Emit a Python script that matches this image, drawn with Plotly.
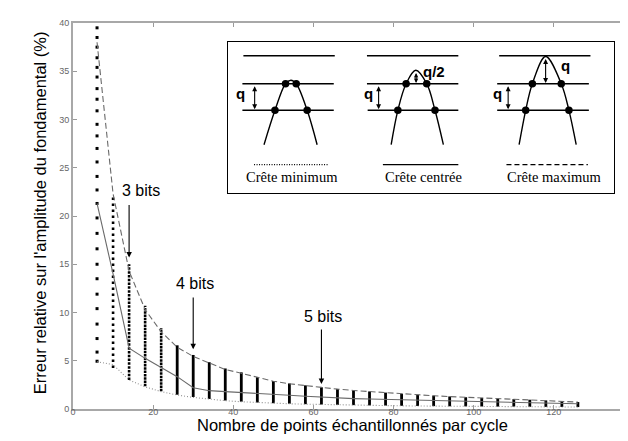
import plotly.graph_objects as go

# ---------------- data ----------------
x_curve = [6, 10, 14, 18, 22, 26, 30, 34, 38, 42, 46, 50, 54, 58, 62, 66, 70, 74,
           78, 82, 86, 90, 94, 98, 102, 106, 110, 114, 118, 122, 126]
crete_max = [38.0, 22.3, 14.3, 10.3, 8.0, 6.4, 5.45, 4.75, 4.1, 3.7, 3.25, 2.88, 2.62,
             2.42, 2.23, 2.06, 1.92, 1.8, 1.68, 1.56, 1.46, 1.37, 1.29, 1.21, 1.14,
             1.07, 1.01, 0.95, 0.88, 0.8, 0.72]
crete_centree = [21.3, 14.0, 6.3, 5.25, 4.3, 3.35, 2.2, 1.9, 1.8, 1.72, 1.62, 1.52, 1.42,
                 1.32, 1.22, 1.14, 1.08, 1.03, 0.99, 0.95, 0.91, 0.87, 0.83, 0.79, 0.76,
                 0.72, 0.69, 0.66, 0.62, 0.58, 0.54]
crete_min = [4.9, 4.6, 3.0, 2.3, 1.8, 1.45, 1.2, 1.0, 0.86, 0.75, 0.66, 0.59, 0.54, 0.5,
             0.46, 0.43, 0.4, 0.37, 0.35, 0.33, 0.31, 0.3, 0.28, 0.27, 0.26, 0.25, 0.24,
             0.23, 0.22, 0.21, 0.2]

# simulated error values (columns of dots)
col6_x = 6
col6_values = [39.5, 38.5, 37.5, 36.4, 35.4, 34.4, 33.2, 32.1, 30.9, 29.5, 28.3, 27.0,
               25.6, 24.1, 22.7, 21.3, 19.8, 18.2, 16.6, 15.0, 13.5, 11.9, 10.4, 8.8,
               7.3, 5.9, 4.95]
col_x = [10, 14, 18, 22, 26, 30, 34, 38, 42, 46, 50, 54, 58, 62, 66, 70, 74, 78, 82, 86,
         90, 94, 98, 102, 106, 110, 114, 118, 122, 126]
col_top = [22.2, 15.0, 10.7, 8.4, 6.6, 5.6, 4.85, 4.2, 3.8, 3.3, 2.9, 2.65, 2.45, 2.25,
           2.08, 1.93, 1.82, 1.7, 1.58, 1.47, 1.38, 1.3, 1.22, 1.15, 1.08, 1.02, 0.96,
           0.89, 0.81, 0.72]
col_bottom = [4.25, 3.0, 2.35, 1.83, 1.48, 1.24, 1.04, 0.88, 0.76, 0.67, 0.6, 0.55, 0.5,
              0.46, 0.43, 0.4, 0.37, 0.35, 0.33, 0.31, 0.3, 0.28, 0.27, 0.26, 0.25, 0.24,
              0.23, 0.22, 0.21, 0.2]

x_ticks = [0, 20, 40, 60, 80, 100, 120, 140]
y_ticks = [0, 5, 10, 15, 20, 25, 30, 35, 40]

bit_labels = ["3 bits", "4 bits", "5 bits"]
bit_x = [14, 30, 62]
bit_tip_y = [15.7, 6.2, 2.6]
bit_tail_y = [21.3, 11.7, 8.4]
bit_text_x = [16.9, 30.4, 62.4]
bit_text_y = [22.6, 13.0, 9.6]

# ---------------- inset illustration (inset pixel frame) ----------------
inset_labels = ["Crête minimum", "Crête centrée", "Crête maximum"]
inset_label_x = [284.3, 416.7, 548.5]
inset_sample_x0 = [246.7, 376.0, 500.0]
inset_sample_x1 = [321.7, 451.7, 581.7]
inset_sample_dash = ["1px,1.5px", "solid", "5px,3px"]
level_x0 = [[236, 235, 235], [360, 360, 360.7], [492.7, 490.7, 490.7]]
level_x1 = [[327.7, 326.7, 326.7], [451.7, 451.7, 451.7], [584.3, 582.7, 582.7]]
level_y = [47.7, 75.7, 102.3]
peak_x = [[256.7, 267.7, 278.3, 283.7, 289, 300, 310],
          [384.3, 391, 399.3, 409, 420, 428.3, 436.7],
          [512.7, 519.3, 526, 539.3, 555, 562.7, 570]]
peak_y = [[136.7, 102.3, 75.7, 72.3, 75.7, 102.3, 136.7],
          [136.7, 102.3, 75.7, 62.3, 75.7, 102.3, 136.7],
          [136.7, 102.3, 75.7, 48.5, 75.7, 102.3, 136.7]]
dot_x = [[278.3, 289, 267.7, 300], [399.3, 420, 391, 428.3], [526, 555, 519.3, 562.7]]
dot_y = [75.7, 75.7, 102.3, 102.3]
q_arrow_x = [247.3, 371.7, 501.7]
q_label_x = [233.5, 361.5, 491.5]
peak_arrow_x = [None, 409.3, 539.3]
peak_arrow_y0 = [None, 63.5, 49.5]
peak_label = [None, "q/2", "q"]
peak_label_x = [None, 427.5, 559.0]
peak_label_y = [None, 63.5, 58.0]

# ---------------- figure ----------------
W, H = 628, 441
ML, MR, MT, MB = 65, 0, 15, 40
PW, PH = W - ML - MR, H - MT - MB
BOX = (221, 608, 34, 185)  # inset frame in page pixels (x0, x1, ytop, ybottom)

fig = go.Figure()

# column x = 6 (individual points)
fig.add_trace(go.Scatter(x=[col6_x] * len(col6_values), y=col6_values, mode="markers",
                         marker=dict(symbol="square", size=3, color="black", line=dict(width=0)),
                         hoverinfo="skip"))
# other columns
for xv, lo, hi in zip(col_x, col_bottom, col_top):
    if xv <= 10:
        dash, w = "2.5px,3.5px", 2.6
    elif xv <= 14:
        dash, w = "2.5px,1.3px", 2.6
    elif xv <= 22:
        dash, w = "2.5px,0.8px", 2.6
    else:
        dash, w = "solid", 2.8
    fig.add_trace(go.Scatter(x=[xv, xv], y=[lo, hi], mode="lines",
                             line=dict(color="black", width=w, dash=dash), hoverinfo="skip"))

fig.add_trace(go.Scatter(x=x_curve, y=crete_max, mode="lines",
                         line=dict(color="#6a6a6a", width=1.1, dash="6px,3px")))
fig.add_trace(go.Scatter(x=x_curve, y=crete_centree, mode="lines",
                         line=dict(color="#6a6a6a", width=1.1)))
fig.add_trace(go.Scatter(x=x_curve, y=crete_min, mode="lines",
                         line=dict(color="#909090", width=1.1, dash="1px,2px")))

annotations = []
for lab, xv, tip, tail, tx, ty in zip(bit_labels, bit_x, bit_tip_y, bit_tail_y, bit_text_x, bit_text_y):
    annotations.append(dict(x=xv, y=tip, ax=xv, ay=tail, xref="x", yref="y", axref="x", ayref="y",
                            text="", showarrow=True, arrowhead=2, arrowsize=1, arrowwidth=1.1,
                            arrowcolor="black"))
    annotations.append(dict(x=tx, y=ty, xref="x", yref="y", text=lab, showarrow=False,
                            font=dict(family="Liberation Sans, Arial", size=16, color="black")))

# axis titles
annotations.append(dict(x=(345 - ML) / PW, y=(MT + PH - 428) / PH, xref="paper", yref="paper",
                        text="Nombre de points échantillonnés par cycle", showarrow=False,
                        font=dict(family="Liberation Sans, Arial", size=16.5, color="black")))
annotations.append(dict(x=(21 - ML) / PW, y=(MT + PH - 205) / PH, xref="paper", yref="paper",
                        text="Erreur relative sur l'amplitude du fondamental (%)", showarrow=False,
                        textangle=-90,
                        font=dict(family="Liberation Sans, Arial", size=16.5, color="black")))

# inset
for i in range(3):
    for x0, x1, yl in zip(level_x0[i], level_x1[i], level_y):
        fig.add_trace(go.Scatter(x=[x0, x1], y=[yl, yl], mode="lines", xaxis="x2", yaxis="y2",
                                 line=dict(color="black", width=1.4), hoverinfo="skip"))
    fig.add_trace(go.Scatter(x=peak_x[i], y=peak_y[i], mode="lines", xaxis="x2", yaxis="y2",
                             line=dict(color="black", width=1.4, shape="spline", smoothing=1.0),
                             hoverinfo="skip"))
    fig.add_trace(go.Scatter(x=dot_x[i], y=dot_y, mode="markers", xaxis="x2", yaxis="y2",
                             marker=dict(color="black", size=7.5, line=dict(width=0)),
                             hoverinfo="skip"))
    fig.add_trace(go.Scatter(x=[inset_sample_x0[i], inset_sample_x1[i]], y=[156.7, 156.7],
                             mode="lines", xaxis="x2", yaxis="y2",
                             line=dict(color="black", width=1.3, dash=inset_sample_dash[i]),
                             hoverinfo="skip"))
    annotations.append(dict(x=inset_label_x[i], y=168.5, xref="x2", yref="y2", text=inset_labels[i],
                            showarrow=False,
                            font=dict(family="Liberation Serif, Times New Roman", size=14.5,
                                      color="black")))
    annotations.append(dict(x=q_arrow_x[i], y=101.3, ax=q_arrow_x[i], ay=76.7, xref="x2", yref="y2",
                            axref="x2", ayref="y2", text="", showarrow=True, arrowhead=2,
                            arrowside="end+start", arrowsize=0.9, arrowwidth=1.1, arrowcolor="black"))
    annotations.append(dict(x=q_label_x[i], y=86, xref="x2", yref="y2", text="<b>q</b>",
                            showarrow=False,
                            font=dict(family="Liberation Sans, Arial", size=15, color="black")))
    if peak_arrow_x[i] is not None:
        annotations.append(dict(x=peak_arrow_x[i], y=75, ax=peak_arrow_x[i], ay=peak_arrow_y0[i],
                                xref="x2", yref="y2", axref="x2", ayref="y2", text="",
                                showarrow=True, arrowhead=2, arrowside="end+start",
                                arrowsize=0.8 if i == 1 else 0.9, arrowwidth=1.1, arrowcolor="black"))
        annotations.append(dict(x=peak_label_x[i], y=peak_label_y[i], xref="x2", yref="y2",
                                text="<b>" + peak_label[i] + "</b>", showarrow=False,
                                font=dict(family="Liberation Sans, Arial", size=15, color="black")))

axis_common = dict(ticks="inside", ticklen=4, tickcolor="#9a9a9a", tickwidth=1,
                   showline=True, linecolor="#a8a8a8", linewidth=2, mirror="ticks",
                   showgrid=False, zeroline=False,
                   tickfont=dict(family="Liberation Sans, Arial", size=9, color="#666666"))

fig.update_layout(
    width=W, height=H,
    margin=dict(l=ML, r=MR, t=MT, b=MB),
    paper_bgcolor="white", plot_bgcolor="white",
    showlegend=False,
    xaxis=dict(range=[0, 140], tickvals=x_ticks, domain=[0, 1], ticklabelstandoff=-7,
               **axis_common),
    yaxis=dict(range=[0, 40], tickvals=y_ticks, domain=[0, 1], ticklabelstandoff=0,
               **axis_common),
    xaxis2=dict(domain=[(BOX[0] - ML) / PW, (BOX[1] - ML) / PW], range=[BOX[0], BOX[1]],
                anchor="y2", showline=True, mirror=True, linecolor="black", linewidth=1,
                showticklabels=False, ticks="", showgrid=False, zeroline=False),
    yaxis2=dict(domain=[(MT + PH - BOX[3]) / PH, (MT + PH - BOX[2]) / PH], range=[BOX[3], BOX[2]],
                anchor="x2", showline=True, mirror=True, linecolor="black", linewidth=1,
                showticklabels=False, ticks="", showgrid=False, zeroline=False),
    annotations=annotations,
)

fig.write_html("out.html")
